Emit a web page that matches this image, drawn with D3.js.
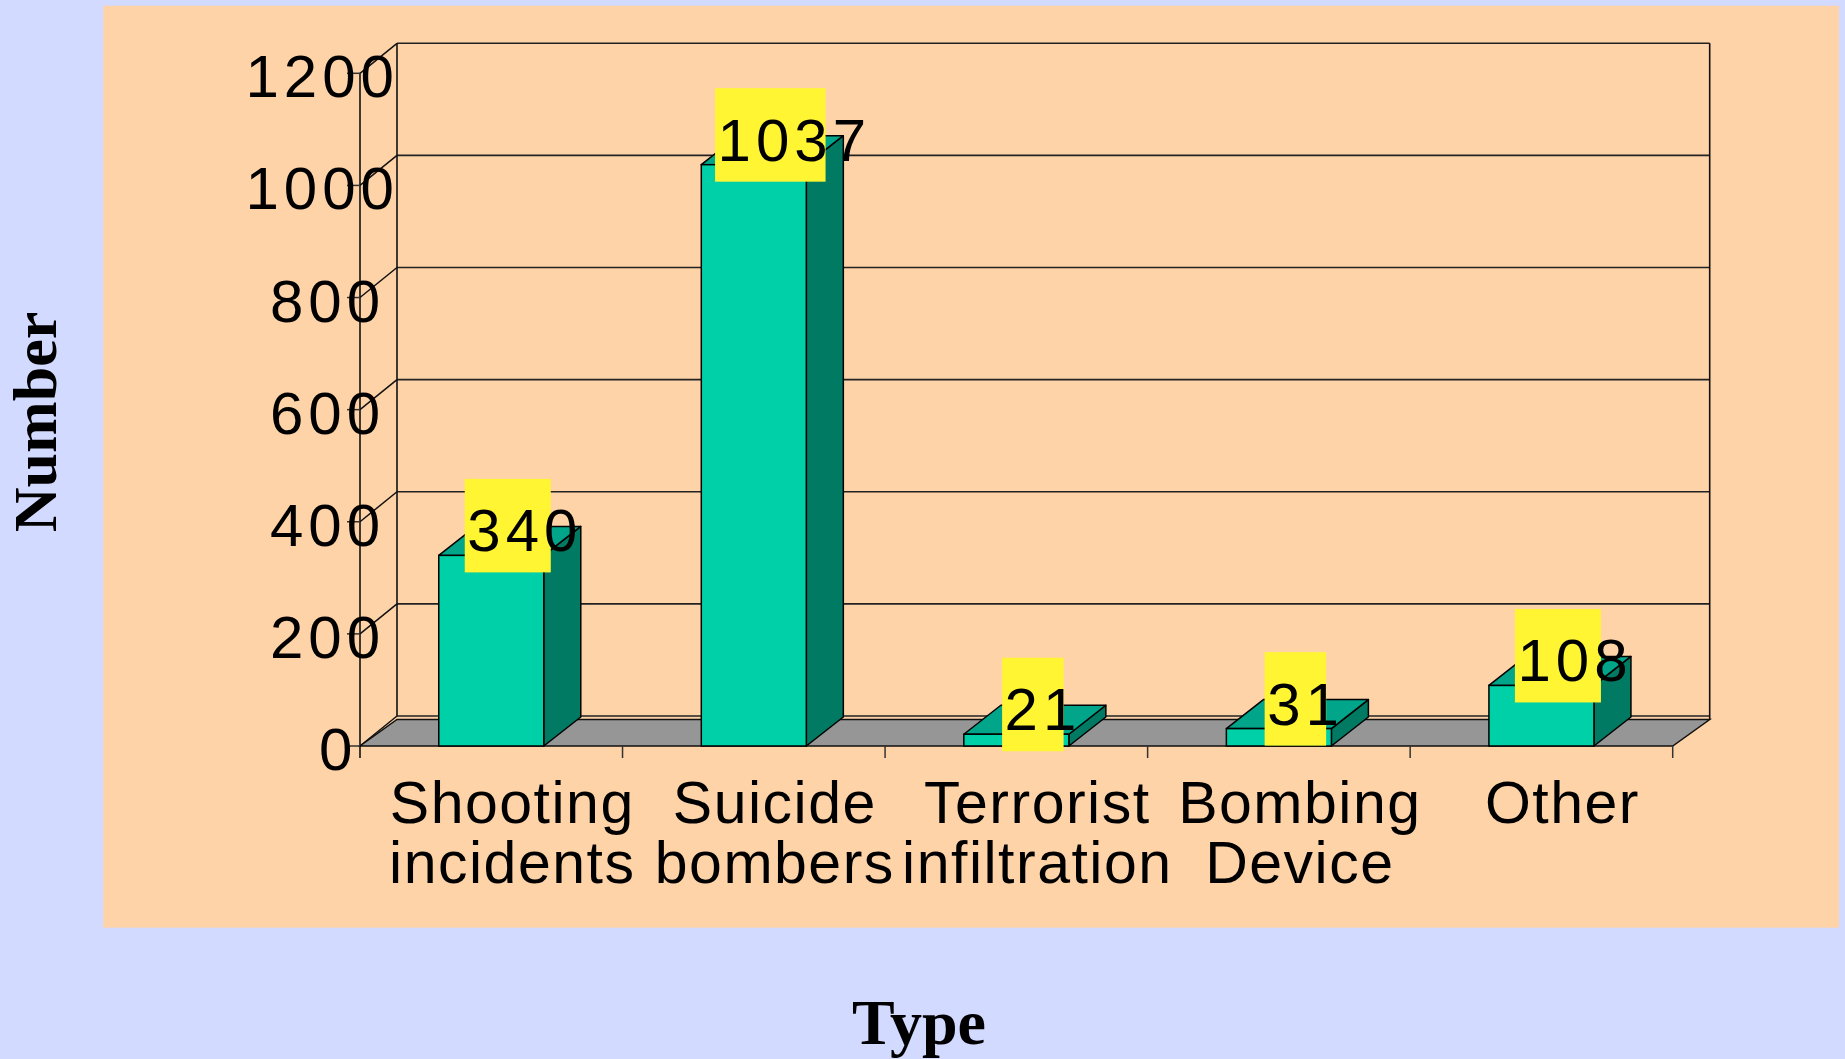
<!DOCTYPE html>
<html>
<head>
<meta charset="utf-8">
<script src="https://cdn.jsdelivr.net/npm/d3@7"></script>
<style>
  html, body { margin: 0; padding: 0; background: #D2DAFF; }
  svg { display: block; }
</style>
</head>
<body>
<svg id="chart" width="1845" height="1059"></svg>
<script>
// ---- data ----
const categories = ["Shooting incidents", "Suicide bombers", "Terrorist infiltration", "Bombing Device", "Other"];
const values = [340, 1037, 21, 31, 108];
const tickValues = [0, 200, 400, 600, 800, 1000, 1200];
const yTitle = "Number";
const xTitle = "Type";

// ---- layout ----
const W = 1845, H = 1059;
const plotLeft = 360, plotRight = 1672.7, plotBottom = 746, plotTop = 73.3;
const depthX = 37, depthY = -30, barDepthY = -29;
const digitFont = "'Liberation Sans', Arial, sans-serif";

const svg = d3.select("#chart");

svg.append("rect").attr("width", W).attr("height", H).attr("fill", "#D2DAFF");
svg.append("rect").attr("x", 103.3).attr("y", 5.7).attr("width", 1839 - 103.3).attr("height", 927.7 - 5.7).attr("fill", "#FFD3A8");

const x = d3.scaleBand().domain(categories).range([plotLeft, plotRight]).paddingInner(0.6).paddingOuter(0.3);
const y = d3.scaleLinear().domain([0, 1200]).range([plotBottom, plotTop]);
const step = x.step();
const bw = x.bandwidth();

const g = svg.append("g");

// back wall gridlines
g.selectAll("line.grid").data(tickValues).join("line")
  .attr("x1", plotLeft + depthX).attr("x2", plotRight + depthX)
  .attr("y1", d => y(d) + depthY).attr("y2", d => y(d) + depthY)
  .attr("stroke", "#222").attr("stroke-width", 1.6);
// side wall diagonals
g.selectAll("line.diag").data(tickValues).join("line")
  .attr("x1", plotLeft).attr("y1", d => y(d))
  .attr("x2", plotLeft + depthX).attr("y2", d => y(d) + depthY)
  .attr("stroke", "#111").attr("stroke-width", 1.5);
// wall edges
g.append("line").attr("x1", plotLeft + depthX).attr("x2", plotLeft + depthX)
  .attr("y1", y(1200) + depthY).attr("y2", y(0) + depthY).attr("stroke", "#111").attr("stroke-width", 1.6);
g.append("line").attr("x1", plotRight + depthX).attr("x2", plotRight + depthX)
  .attr("y1", y(1200) + depthY).attr("y2", y(0) - 26.5).attr("stroke", "#111").attr("stroke-width", 1.6);

// floor
const fb = y(0) - 26.5;
g.append("polygon")
  .attr("points", [[plotLeft, y(0)], [plotRight, y(0)], [plotRight + depthX, fb], [plotLeft + depthX, fb]].map(p => p.join(",")).join(" "))
  .attr("fill", "#969696").attr("stroke", "#111").attr("stroke-width", 1.5);

// front y axis + ticks
g.append("line").attr("x1", plotLeft).attr("x2", plotLeft).attr("y1", y(1200)).attr("y2", y(0) + 12)
  .attr("stroke", "#111").attr("stroke-width", 1.6);
g.selectAll("line.ytick").data(tickValues).join("line")
  .attr("x1", plotLeft - 13).attr("x2", plotLeft).attr("y1", d => y(d)).attr("y2", d => y(d))
  .attr("stroke", "#333").attr("stroke-width", 1.5);
// category boundary ticks
const bounds = categories.map((c, i) => plotLeft + (i + 1) * step);
g.selectAll("line.xtick").data(bounds).join("line")
  .attr("x1", d => d).attr("x2", d => d).attr("y1", y(0)).attr("y2", y(0) + 12)
  .attr("stroke", "#333").attr("stroke-width", 1.5);

// tick labels
g.selectAll("text.ylab").data(tickValues).join("text")
  .attr("x", d => 343.5 - 24.5 * String(d).length)
  .attr("y", d => y(d) + 24)
  .attr("font-family", digitFont).attr("font-size", 60).style("letter-spacing", "5px")
  .attr("fill", "#000").text(d => d);

// bars
const bars = g.selectAll("g.bar").data(categories.map((c, i) => ({ c, v: values[i] }))).join("g");
bars.each(function (d) {
  const sel = d3.select(this);
  const x0 = x(d.c), x1 = x0 + bw, yt = y(d.v), yb = y(0);
  const pts = a => a.map(p => p.join(",")).join(" ");
  sel.append("polygon").attr("points", pts([[x1, yt], [x1 + depthX, yt + barDepthY], [x1 + depthX, yb + barDepthY], [x1, yb]]))
    .attr("fill", "#007A62").attr("stroke", "#000").attr("stroke-width", 1.5).attr("stroke-linejoin", "round");
  sel.append("polygon").attr("points", pts([[x0, yt], [x0 + depthX, yt + barDepthY], [x1 + depthX, yt + barDepthY], [x1, yt]]))
    .attr("fill", "#00A58A").attr("stroke", "#000").attr("stroke-width", 1.5).attr("stroke-linejoin", "round");
  sel.append("rect").attr("x", x0).attr("y", yt).attr("width", bw).attr("height", yb - yt)
    .attr("fill", "#00D0A8").attr("stroke", "#000").attr("stroke-width", 1.5);
});

// value labels
bars.each(function (d) {
  const sel = d3.select(this);
  const s = String(d.v);
  const bwLab = 24.5 * s.length + 12.5;
  const cx = x(d.c) + bw / 2 + 16.5;
  const top = y(d.v) - 76.5;
  sel.append("rect").attr("x", cx - bwLab / 2).attr("y", top).attr("width", bwLab).attr("height", 93.5)
    .attr("fill", "#FFF533");
  sel.append("text").attr("x", cx - bwLab / 2 + 2.5).attr("y", top + 72.5)
    .attr("font-family", digitFont).attr("font-size", 60).style("letter-spacing", "5px")
    .attr("fill", "#000").text(s);
});

// category labels
g.selectAll("text.cat").data(categories).join("text")
  .attr("font-family", digitFont).attr("font-size", 59).style("letter-spacing", "1.5px")
  .attr("text-anchor", "middle").attr("fill", "#000")
  .each(function (d) {
    const lines = d.split(" ");
    const t = d3.select(this);
    lines.forEach((ln, i) => {
      t.append("tspan").attr("x", x(d) + bw / 2 + 21).attr("y", 822.7 + i * 60.6).text(ln);
    });
  });

// axis titles
svg.append("text").attr("transform", "translate(56,422) rotate(-90)")
  .attr("text-anchor", "middle").attr("font-family", "'Liberation Serif', 'Times New Roman', serif")
  .attr("font-weight", "bold").attr("font-size", 62).attr("fill", "#000").text(yTitle);
svg.append("text").attr("x", 919).attr("y", 1044)
  .attr("text-anchor", "middle").attr("font-family", "'Liberation Serif', 'Times New Roman', serif")
  .attr("font-weight", "bold").attr("font-size", 64).attr("fill", "#000").text(xTitle);
</script>
</body>
</html>
